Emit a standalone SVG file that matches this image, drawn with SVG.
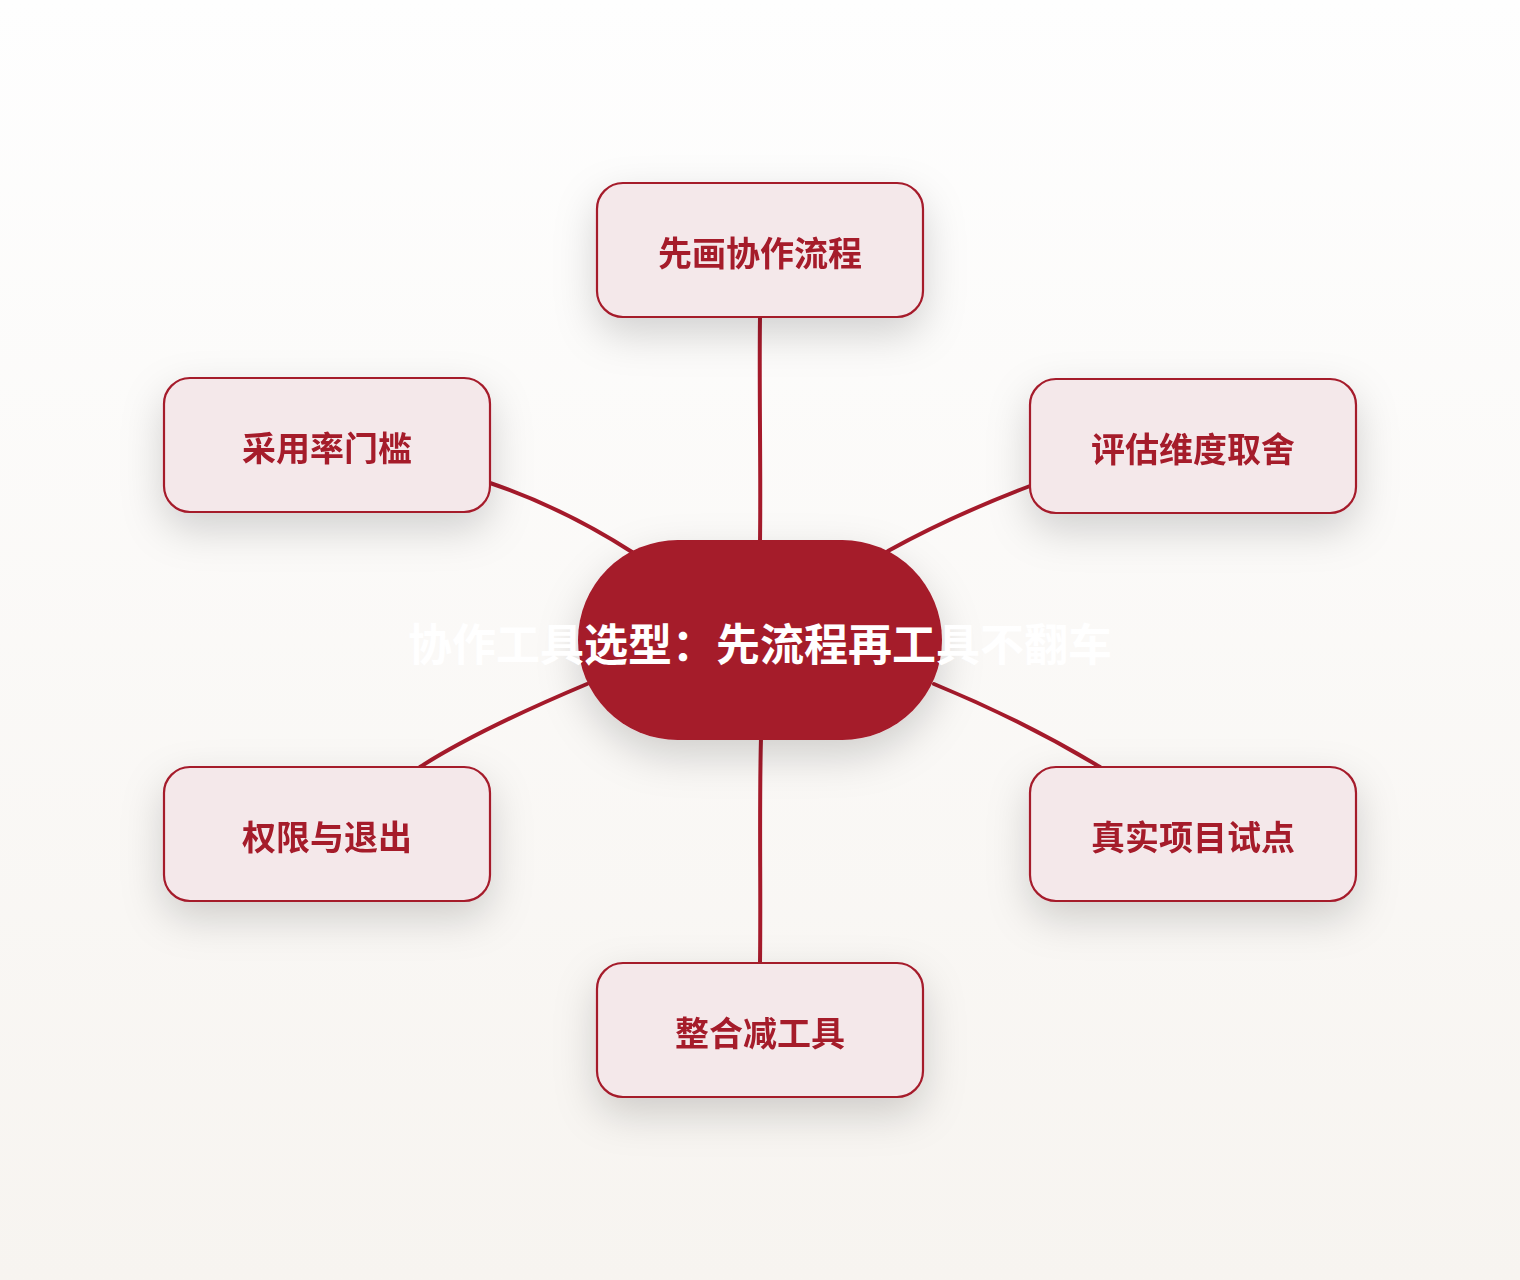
<svg xmlns="http://www.w3.org/2000/svg" width="1520" height="1280" viewBox="0 0 1520 1280">
<defs>
<linearGradient id="bg" x1="0" y1="0" x2="0" y2="1">
<stop offset="0" stop-color="#fefefe"/>
<stop offset="1" stop-color="#f7f4f0"/>
</linearGradient>
<filter id="sh" x="-40%" y="-50%" width="180%" height="210%">
<feDropShadow dx="0" dy="16" stdDeviation="20" flood-color="#000" flood-opacity="0.17"/>
</filter>
<style>
.leaf rect{fill:#f4e8ea;stroke:#a51a2b;stroke-width:2.2}
.leaf text{fill:#a51a2b;font-family:"Noto Sans CJK SC","Liberation Sans",sans-serif;font-weight:700;font-size:34px;text-anchor:middle;dominant-baseline:central}
.edge path{fill:none;stroke:#a51a2b;stroke-width:4;stroke-linecap:round}
.hub rect{fill:#a51a2b}
.hub text{fill:#ffffff;font-family:"Noto Sans CJK SC","Liberation Sans",sans-serif;font-weight:700;font-size:44px;text-anchor:middle;dominant-baseline:central}
</style>
</defs>
<rect x="0" y="0" width="1520" height="1280" fill="url(#bg)"/>
<g id="connectors" class="edge">
<path d="M760,317 C759,390 761,470 760,542"/>
<path d="M490,483 C540,500 590,525 632,552"/>
<path d="M1030,486 C980,505 935,525 888,551"/>
<path d="M420,767 C470,735 530,708 587,684"/>
<path d="M1100,767 C1050,737 990,707 934,684"/>
<path d="M761,738 C759,810 761,890 760,963"/>
</g>
<g id="hub" class="hub" filter="url(#sh)">
<rect x="578" y="540" width="364" height="200" rx="100" ry="100"/>
</g>
<g id="hub-label" class="hub">
<text x="760" y="642">协作工具选型：先流程再工具不翻车</text>
</g>
<g id="n1" class="leaf" filter="url(#sh)">
<rect x="597" y="183" width="326" height="134" rx="26"/>
<text x="760" y="251">先画协作流程</text>
</g>
<g id="n2" class="leaf" filter="url(#sh)">
<rect x="1030" y="379" width="326" height="134" rx="26"/>
<text x="1193" y="447">评估维度取舍</text>
</g>
<g id="n3" class="leaf" filter="url(#sh)">
<rect x="1030" y="767" width="326" height="134" rx="26"/>
<text x="1193" y="835">真实项目试点</text>
</g>
<g id="n4" class="leaf" filter="url(#sh)">
<rect x="597" y="963" width="326" height="134" rx="26"/>
<text x="760" y="1031">整合减工具</text>
</g>
<g id="n5" class="leaf" filter="url(#sh)">
<rect x="164" y="767" width="326" height="134" rx="26"/>
<text x="327" y="835">权限与退出</text>
</g>
<g id="n6" class="leaf" filter="url(#sh)">
<rect x="164" y="378" width="326" height="134" rx="26"/>
<text x="327" y="446">采用率门槛</text>
</g>
</svg>
